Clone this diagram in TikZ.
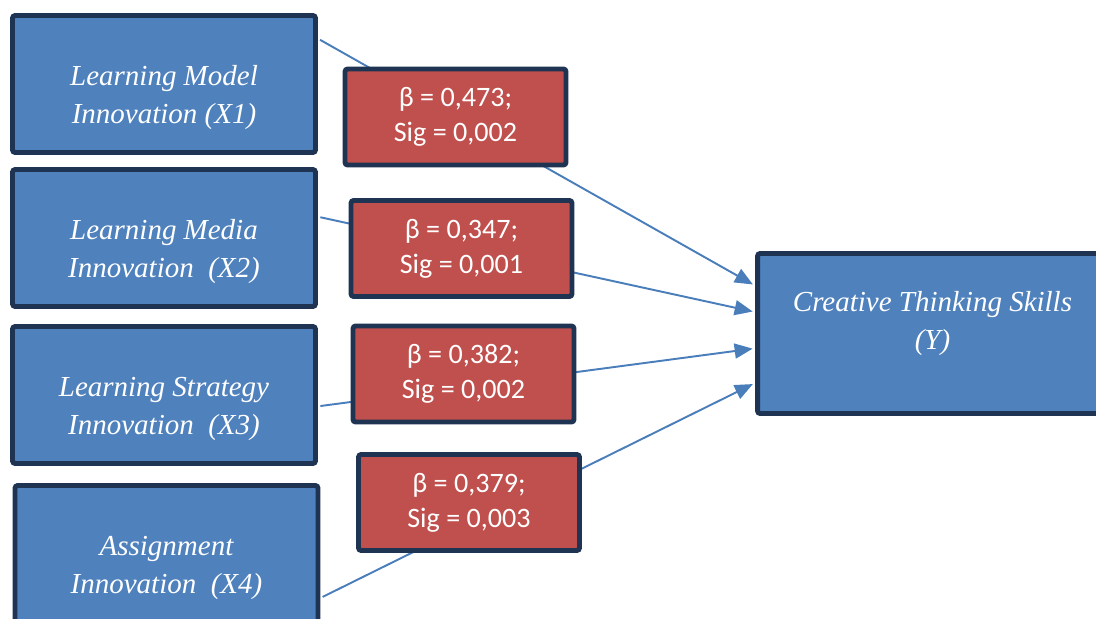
\documentclass[tikz,border=0pt]{standalone}
\usepackage{fontspec}
\setmainfont{Liberation Serif}
\newfontfamily\sigfont{Carlito}
\usepackage{xcolor}
\usetikzlibrary{arrows.meta,calc}

\definecolor{boxblue}{HTML}{4F81BD}
\definecolor{boxred}{HTML}{C0504D}
\definecolor{rimdark}{HTML}{1F3452}
\definecolor{linkblue}{HTML}{4A7EBB}

\begin{document}
\begin{tikzpicture}[
			x=0.02cm, y=-0.02cm,
			varbox/.style={
				rectangle, draw=rimdark, fill=boxblue, line width=2.8pt,
				rounded corners=1.5pt, text=white, align=center,
				font=\fontsize{16.5}{21.5}\selectfont\itshape,
				minimum width=6.06cm, minimum height=2.74cm
			},
			coefbox/.style={
				rectangle, draw=rimdark, fill=boxred, line width=2.8pt,
				rounded corners=1.5pt, text=white, align=center,
				font=\sigfont\fontsize{16}{20}\selectfont,
				minimum width=4.42cm, minimum height=1.92cm
			},
			link/.style={draw=linkblue, line width=1.1pt,
				-{Triangle[length=0.36cm,width=0.3cm]},
				shorten <=1.4pt, shorten >=1.4pt}
			]
			\useasboundingbox (0,0) rectangle (1096,619);
			\clip (0,0) rectangle (1096,619);
			% independent variables
			\node[varbox] (x1) at (164,84) {\mbox{}\\[5pt]Learning Model\\Innovation (X1)};
			\node[varbox] (x2) at (164,238) {\mbox{}\\[5pt]Learning Media\\Innovation\ \ (X2)};
			\node[varbox] (x3) at (164,395) {\mbox{}\\[5pt]Learning Strategy\\Innovation\ \ (X3)};
			\node[varbox] (x4) at (166.5,554) {\mbox{}\\[5pt]Assignment\\Innovation\ \ (X4)};
			% dependent variable
			\node[varbox, minimum width=7cm, minimum height=3.2cm] (y) at (932.5,333.5)
				{Creative Thinking Skills\\(Y)\\[-7pt]\mbox{}};
			% paths
			\draw[link] ($(x1.north east)!0.18!(x1.south east)$) -- ($(y.north west)!0.21!(y.south west)$);
			\draw[link] ($(x2.north east)!0.35!(x2.south east)$) -- ($(y.north west)!0.37!(y.south west)$);
			\draw[link] ($(x3.north east)!0.58!(x3.south east)$) -- ($(y.north west)!0.59!(y.south west)$);
			\draw[link] ($(x4.north east)!0.81!(x4.south east)$) -- ($(y.north west)!0.80!(y.south west)$);
			% coefficients
			\node[coefbox] (c1) at (455.5,117) {β = 0,473;\\Sig = 0,002};
			\node[coefbox] (c2) at (461.5,248.5) {β = 0,347;\\Sig = 0,001};
			\node[coefbox] (c3) at (463.5,374) {β = 0,382;\\Sig = 0,002};
			\node[coefbox] (c4) at (469,502.5) {β = 0,379;\\Sig = 0,003};
		\end{tikzpicture}
\end{document}
